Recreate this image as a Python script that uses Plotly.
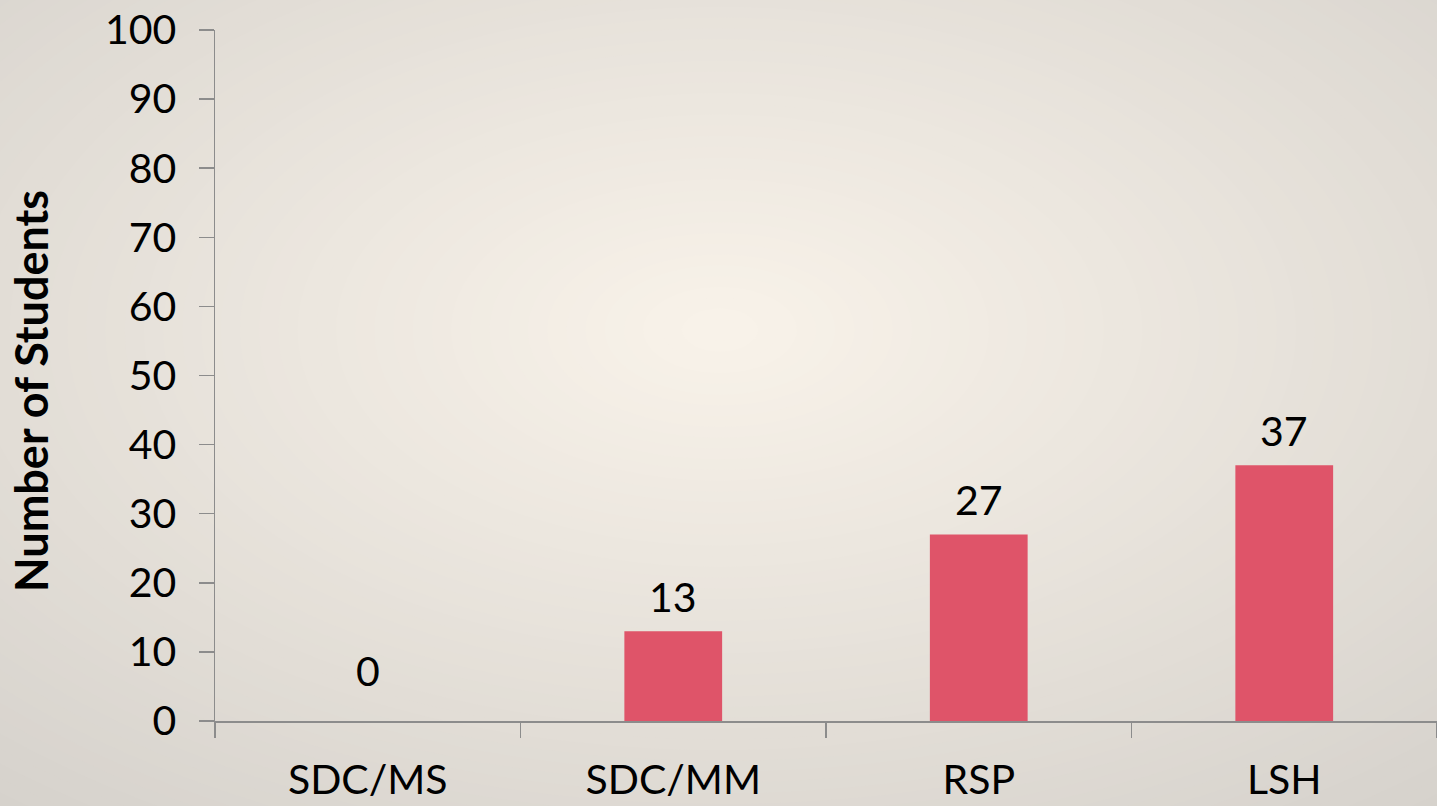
import plotly.graph_objects as go

categories = ["SDC/MS", "SDC/MM", "RSP", "LSH"]
values = [0, 13, 27, 37]
y_ticks = [0, 10, 20, 30, 40, 50, 60, 70, 80, 90, 100]
y_title = "Number of Students"

W, H = 1437, 806
ML, MR, MT, MB = 215, 0, 30, 85
PW, PH = W - ML - MR, H - MT - MB

FONT = "Lato"
BAR = "#DF5469"
AX = "#8c8c8c"

c0 = (249, 243, 234)
c1 = (214, 210, 204)
cx, cy = 720, 330
ax_, ay_ = 720, 404


def col(d):
    t = max(0.0, min(1.0, d / 1.55))
    return "rgb(%d,%d,%d)" % tuple(round(a + (b - a) * t) for a, b in zip(c0, c1))


def px2paper_x(px):
    return (px - ML) / PW


def py2paper_y(py):
    return (H - MB - py) / PH


shapes = []
N = 60
dmax = 1.6
for i in range(N, 0, -1):
    d = dmax * i / N
    rx, ry = ax_ * d, ay_ * d
    shapes.append(dict(
        type="circle", xref="paper", yref="paper", layer="below",
        x0=px2paper_x(cx - rx), x1=px2paper_x(cx + rx),
        y0=py2paper_y(cy + ry), y1=py2paper_y(cy - ry),
        fillcolor=col(d), line=dict(width=0),
    ))

fig = go.Figure()
fig.add_trace(go.Bar(
    x=categories, y=values, marker=dict(color=BAR, line=dict(width=0)),
    hoverinfo="skip",
))

annotations = []
for c, v in zip(categories, values):
    annotations.append(dict(
        x=c, y=v, xref="x", yref="y", text=str(v), showarrow=False,
        yanchor="bottom", yshift=8 if v > 0 else 24,
        font=dict(family=FONT, size=41, color="#000000"),
    ))
annotations.append(dict(
    x=px2paper_x(31), y=py2paper_y(391), xref="paper", yref="paper",
    text="<b>" + y_title + "</b>", textangle=-90, showarrow=False,
    xanchor="center", yanchor="middle",
    font=dict(family=FONT, size=45, color="#000000"),
))

fig.update_layout(
    width=W, height=H,
    margin=dict(l=ML, r=MR, t=MT, b=MB, autoexpand=False),
    paper_bgcolor=col(dmax), plot_bgcolor="rgba(0,0,0,0)",
    shapes=shapes, annotations=annotations,
    bargap=0.68, showlegend=False,
    font=dict(family=FONT, size=41, color="#000000"),
)
fig.update_xaxes(
    range=[-0.5, 3.5], showline=True, linecolor=AX, linewidth=1.5,
    ticks="outside", tickson="boundaries", ticklen=15, tickwidth=1.5, tickcolor=AX,
    showgrid=False, zeroline=False, ticklabelstandoff=22,
    tickfont=dict(family=FONT, size=41, color="#000000"), automargin=False,
)
fig.update_yaxes(
    range=[0, 100], tickvals=y_ticks, showline=True, linecolor=AX, linewidth=1.5,
    ticks="outside", ticklen=15, tickwidth=1.5, tickcolor=AX,
    showgrid=False, zeroline=False, ticklabelstandoff=14,
    tickfont=dict(family=FONT, size=41, color="#000000"), automargin=False,
)

fig.write_html(
    "out.html",
    config={"displayModeBar": False, "staticPlot": True},
    post_script="document.body.style.margin='0';document.body.style.overflow='hidden';",
)
